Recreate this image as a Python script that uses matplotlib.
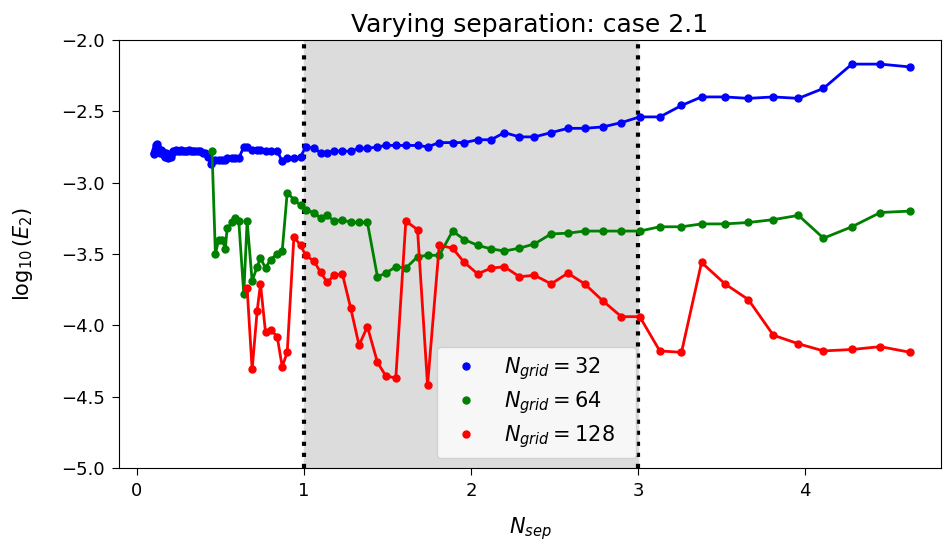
import matplotlib
matplotlib.use("Agg")
import matplotlib.pyplot as plt

# separations only computed for the coarse grid
x_low = [0.100, 0.104, 0.108, 0.112, 0.117, 0.121, 0.126, 0.131, 0.136, 0.142,
         0.148, 0.154, 0.160, 0.166, 0.173, 0.180, 0.187, 0.194, 0.202, 0.210,
         0.219, 0.227, 0.236, 0.246, 0.256, 0.266, 0.277, 0.288, 0.299, 0.311,
         0.324, 0.337, 0.350, 0.364, 0.379, 0.394, 0.410, 0.426, 0.443]
blue_low = [-2.80, -2.79, -2.77, -2.75, -2.74, -2.73, -2.76, -2.78, -2.79, -2.77,
            -2.78, -2.80, -2.81, -2.82, -2.79, -2.82, -2.83, -2.81, -2.82, -2.79,
            -2.78, -2.78, -2.77, -2.78, -2.78, -2.77, -2.78, -2.78, -2.78, -2.77,
            -2.78, -2.78, -2.78, -2.78, -2.78, -2.79, -2.79, -2.82, -2.87]

# separations shared by all grids
x_sep = [0.45, 0.47, 0.49, 0.51, 0.53, 0.54, 0.57, 0.59, 0.61, 0.64,
         0.66, 0.69, 0.72, 0.74, 0.77, 0.80, 0.84, 0.87, 0.90, 0.94,
         0.98, 1.01, 1.06, 1.10, 1.14, 1.18, 1.23, 1.28, 1.33, 1.38,
         1.44, 1.49, 1.55, 1.61, 1.68, 1.74, 1.81, 1.89, 1.96, 2.04,
         2.12, 2.20, 2.29, 2.38, 2.48, 2.58, 2.68, 2.79, 2.90, 3.01,
         3.13, 3.26, 3.38, 3.52, 3.66, 3.81, 3.96, 4.11, 4.28, 4.45, 4.63]

err_32 = [-2.85, -2.84, -2.84, -2.84, -2.84, -2.83, -2.83, -2.83, -2.83, -2.75,
          -2.75, -2.77, -2.77, -2.77, -2.78, -2.78, -2.78, -2.85, -2.83, -2.83,
          -2.82, -2.75, -2.76, -2.79, -2.79, -2.78, -2.78, -2.78, -2.76, -2.76,
          -2.75, -2.74, -2.74, -2.74, -2.74, -2.75, -2.72, -2.72, -2.72, -2.70,
          -2.70, -2.65, -2.68, -2.68, -2.65, -2.62, -2.62, -2.61, -2.58, -2.54,
          -2.54, -2.46, -2.40, -2.40, -2.41, -2.40, -2.41, -2.34, -2.17, -2.17, -2.19]

err_64 = [-2.78, -3.50, -3.40, -3.40, -3.465, -3.32, -3.28, -3.25, -3.27, -3.78,
          -3.27, -3.69, -3.59, -3.53, -3.60, -3.54, -3.50, -3.48, -3.07, -3.12,
          -3.16, -3.19, -3.21, -3.25, -3.23, -3.27, -3.26, -3.28, -3.28, -3.28,
          -3.66, -3.635, -3.59, -3.60, -3.52, -3.51, -3.51, -3.34, -3.40, -3.44,
          -3.465, -3.48, -3.46, -3.43, -3.36, -3.355, -3.34, -3.34, -3.34, -3.34,
          -3.31, -3.31, -3.29, -3.29, -3.28, -3.26, -3.23, -3.39, -3.31, -3.21, -3.20]

# fine grid starts at x_sep[10]
err_128 = [-3.74, -4.31, -3.90, -3.71, -4.05, -4.03, -4.08, -4.29, -4.19, -3.38,
           -3.44, -3.51, -3.55, -3.63, -3.70, -3.65, -3.64, -3.88, -4.14, -4.01,
           -4.26, -4.355, -4.37, -3.27, -3.33, -4.42, -3.44, -3.46, -3.56, -3.64,
           -3.60, -3.59, -3.66, -3.65, -3.71, -3.635, -3.71, -3.83, -3.94, -3.94,
           -4.18, -4.19, -3.56, -3.71, -3.82, -4.07, -4.13, -4.18, -4.17, -4.15, -4.19]

series = [
    (x_low + x_sep, blue_low + err_32, "blue", r"$N_{grid} = 32$"),
    (x_sep, err_64, "green", r"$N_{grid} = 64$"),
    (x_sep[10:], err_128, "red", r"$N_{grid} = 128$"),
]

plt.rcParams["font.size"] = 13

fig = plt.figure(figsize=(9.43, 5.46), dpi=100)
ax = fig.add_axes([0.126, 0.143, 0.872, 0.784])

ax.axvspan(1, 3, color="gainsboro", zorder=0)
ax.axvline(1, color="black", linestyle=":", linewidth=3)
ax.axvline(3, color="black", linestyle=":", linewidth=3)

for xs, ys, col, lab in series:
    ax.plot(xs, ys, "-", color=col, linewidth=2)
    ax.plot(xs, ys, "o", color=col, markersize=5, label=lab)

ax.set_xlim(-0.108, 4.814)
ax.set_ylim(-5.0, -2.0)
ax.set_xticks([0, 1, 2, 3, 4])
ax.set_yticks([-5.0, -4.5, -4.0, -3.5, -3.0, -2.5, -2.0])
ax.tick_params(labelsize=13, length=5, pad=5)
ax.set_xlabel(r"$N_{sep}$", fontsize=15, labelpad=11)
ax.set_ylabel(r"$\log_{10}(E_2)$", fontsize=15, labelpad=19)
ax.set_title("Varying separation: case 2.1", fontsize=18)
ax.legend(loc="lower left", bbox_to_anchor=(0.387, 0.0234, 0.242, 0.3),
          mode="expand", borderaxespad=0, numpoints=1, fontsize=15,
          labelspacing=0.33)

fig.savefig("out.png")
